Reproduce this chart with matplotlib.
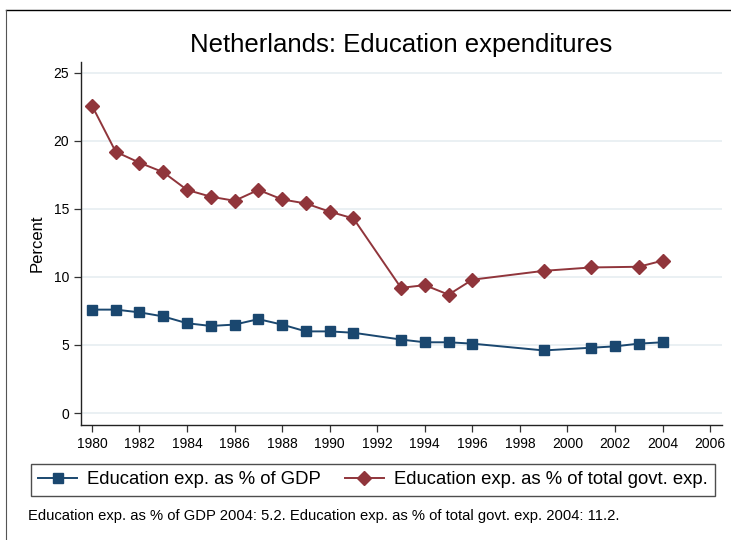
import matplotlib
matplotlib.use("Agg")
import matplotlib.pyplot as plt
from matplotlib.lines import Line2D

plt.rcParams['font.family'] = ['Liberation Sans', 'DejaVu Sans']

# data
gdp_years = [1980, 1981, 1982, 1983, 1984, 1985, 1986, 1987, 1988, 1989, 1990,
             1991, 1993, 1994, 1995, 1996, 1999, 2001, 2002, 2003, 2004]
gdp_share = [7.6, 7.6, 7.4, 7.1, 6.6, 6.4, 6.5, 6.9, 6.5, 6.0, 6.0,
             5.9, 5.4, 5.2, 5.2, 5.1, 4.6, 4.8, 4.9, 5.1, 5.2]

govt_years = [1980, 1981, 1982, 1983, 1984, 1985, 1986, 1987, 1988, 1989, 1990,
              1991, 1993, 1994, 1995, 1996, 1999, 2001, 2003, 2004]
govt_share = [22.6, 19.2, 18.4, 17.7, 16.4, 15.9, 15.6, 16.4, 15.7, 15.4, 14.8,
              14.3, 9.2, 9.4, 8.7, 9.8, 10.45, 10.7, 10.75, 11.2]

x_ticks = list(range(1980, 2007, 2))
y_ticks = [0, 5, 10, 15, 20, 25]

navy = '#1a476f'
maroon = '#90353b'

fig = plt.figure(figsize=(7.31, 5.40), dpi=100)
ax = fig.add_axes([81/731, 1 - 425/540, (722 - 81)/731, (425 - 62)/540])

ax.plot(gdp_years, gdp_share, color=navy, lw=1.4, marker='s', ms=7.5,
        label='Education exp. as % of GDP', zorder=3)
ax.plot(govt_years, govt_share, color=maroon, lw=1.4, marker='D', ms=7.5,
        label='Education exp. as % of total govt. exp.', zorder=3)

ax.set_xlim(1979.54, 2006.5)
ax.set_ylim(-0.88, 25.8)
ax.set_xticks(x_ticks)
ax.set_yticks(y_ticks)
ax.tick_params(labelsize=10, length=5, width=0.9, color='#333333')
ax.yaxis.grid(True, color='#e8eff2', lw=1.3)
ax.set_axisbelow(True)
for s in ['top', 'right']:
    ax.spines[s].set_visible(False)
for s in ['left', 'bottom']:
    ax.spines[s].set_color('#222222')
    ax.spines[s].set_linewidth(1.0)

ax.set_ylabel('Percent', fontsize=12)
ax.yaxis.set_label_coords(-36/641, 0.5)
fig.text(401/731, 1 - 45/540, 'Netherlands: Education expenditures',
         ha='center', va='center', fontsize=18.5)

# legend box below the plot
handles = [Line2D([], [], color=navy, marker='s', ms=7, lw=1.4),
           Line2D([], [], color=maroon, marker='D', ms=7.5, lw=1.4)]
labels = ['Education exp. as % of GDP', 'Education exp. as % of total govt. exp.']
leg = fig.legend(handles, labels, loc='center', ncol=2, fontsize=13.3,
                 bbox_to_anchor=(373/731, 1 - 480/540), frameon=True,
                 fancybox=False, edgecolor='#222222', handlelength=2.1,
                 columnspacing=1.3, borderpad=0.4, handletextpad=0.55,
                 borderaxespad=0)
leg.get_frame().set_linewidth(1.0)

fig.text(28/731, 1 - 516/540,
         'Education exp. as % of GDP 2004: 5.2. Education exp. as % of total govt. exp. 2004: 11.2.',
         ha='left', va='center', fontsize=10.6)

# outer frame lines (top and left)
fig.add_artist(Line2D([6/731, 1], [1 - 10/540, 1 - 10/540], color='black', lw=1.0))
fig.add_artist(Line2D([6/731, 6/731], [0, 1 - 10/540], color='#555555', lw=0.8))

fig.savefig('out.png', dpi=100)
